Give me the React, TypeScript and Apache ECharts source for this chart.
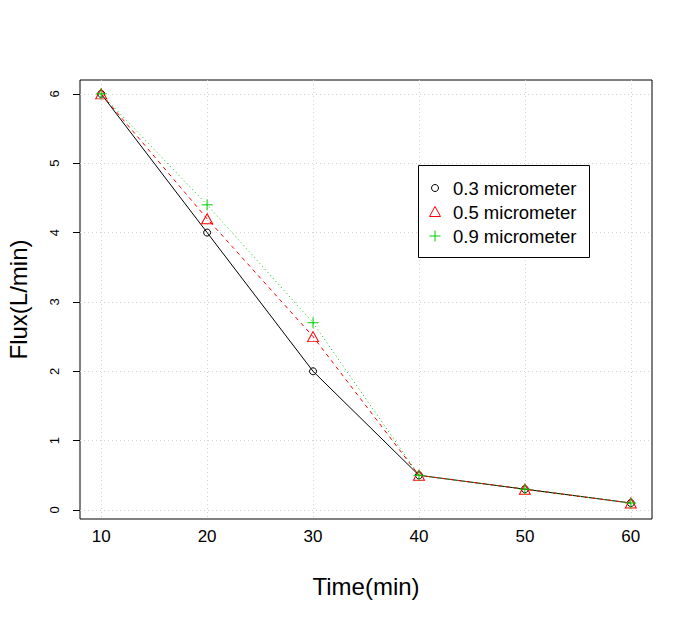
import React, { useEffect, useRef } from "react";
import * as echarts from "echarts";

const times = [10, 20, 30, 40, 50, 60];
const flux03 = [6, 4, 2, 0.5, 0.3, 0.1];
const flux05 = [6, 4.2, 2.5, 0.5, 0.3, 0.1];
const flux09 = [6, 4.4, 2.7, 0.5, 0.3, 0.1];
const xTicks = [10, 20, 30, 40, 50, 60];
const yTicks = [0, 1, 2, 3, 4, 5, 6];
const legendNames = ["0.3 micrometer", "0.5 micrometer", "0.9 micrometer"];

const FONT = "'Liberation Sans', Arial, sans-serif";
const RED = "#FF0000";
const GREEN = "#00CD00";

export default function App() {
  const ref = useRef<HTMLDivElement>(null);
  useEffect(() => {
    if (!ref.current) return;
    const chart = echarts.init(ref.current, null, { renderer: "svg" });
    const pair = (ys: number[]) => times.map((t, i) => [t, ys[i]]);
    const lx = 418, ly = 165;
    const rowY = [188, 212, 236];
    const symX = 435;
    chart.setOption({
      animation: false,
      backgroundColor: "#fff",
      grid: {
        left: 80, top: 80, width: 572, height: 439,
        outerBoundsMode: "none", containLabel: false,
        show: true, borderColor: "#000", borderWidth: 1, backgroundColor: "transparent",
      },
      xAxis: {
        type: "value", min: 8, max: 62,
        name: "Time(min)", nameLocation: "middle", nameGap: 55,
        nameTextStyle: { fontFamily: FONT, fontSize: 24, color: "#000" },
        axisLine: { show: false },
        axisTick: { show: false, customValues: xTicks },
        axisLabel: { customValues: xTicks, fontFamily: FONT, fontSize: 17, color: "#000", margin: 9 },
        splitLine: { show: true, lineStyle: { color: "#D3D3D3", type: [1, 3], width: 1 } },
      },
      yAxis: {
        type: "value", min: -0.13, max: 6.2,
        name: "Flux(L/min)", nameLocation: "middle", nameGap: 50, nameRotate: 90,
        nameTextStyle: { fontFamily: FONT, fontSize: 24, color: "#000" },
        axisLine: { show: false },
        axisTick: { show: true, length: 7, inside: false, customValues: yTicks, lineStyle: { color: "#000" } },
        axisLabel: { customValues: yTicks, rotate: 90, fontFamily: FONT, fontSize: 13, color: "#000", margin: 19 },
        splitLine: { show: true, lineStyle: { color: "#D3D3D3", type: [1, 3], width: 1 } },
      },
      series: [
        {
          name: legendNames[0], type: "line", data: pair(flux03),
          symbol: "circle", symbolSize: 7, showAllSymbol: true,
          lineStyle: { color: "#000", width: 1, type: "solid" },
          itemStyle: { color: "transparent", borderColor: "#000", borderWidth: 1 },
          z: 2,
        },
        {
          name: legendNames[1], type: "line", data: pair(flux05),
          symbol: "triangle", symbolSize: [11, 10], showAllSymbol: true,
          lineStyle: { color: RED, width: 1, type: [4, 4] },
          itemStyle: { color: "transparent", borderColor: RED, borderWidth: 1 },
          z: 3,
        },
        {
          name: legendNames[2], type: "line", data: pair(flux09),
          symbol: "path://M0,5L10,5M5,0L5,10", symbolSize: 11, showAllSymbol: true,
          lineStyle: { color: GREEN, width: 1, type: [1, 3] },
          itemStyle: { color: "transparent", borderColor: GREEN, borderWidth: 1 },
          z: 4,
        },
      ],
      graphic: [
        { type: "rect", z: 10, shape: { x: lx + 0.5, y: ly + 0.5, width: 171, height: 92 },
          style: { fill: "#fff", stroke: "#000", lineWidth: 1 } },
        { type: "circle", z: 11, shape: { cx: symX, cy: rowY[0], r: 3.5 },
          style: { fill: "none", stroke: "#000", lineWidth: 1 } },
        { type: "polygon", z: 11, shape: { points: [[symX, rowY[1] - 5.5], [symX - 5.5, rowY[1] + 4.5], [symX + 5.5, rowY[1] + 4.5]] },
          style: { fill: "none", stroke: RED, lineWidth: 1 } },
        { type: "line", z: 11, shape: { x1: symX - 5.5, y1: rowY[2], x2: symX + 5.5, y2: rowY[2] },
          style: { stroke: GREEN, lineWidth: 1 } },
        { type: "line", z: 11, shape: { x1: symX, y1: rowY[2] - 5.5, x2: symX, y2: rowY[2] + 5.5 },
          style: { stroke: GREEN, lineWidth: 1 } },
        ...legendNames.map((n, i) => ({
          type: "text", z: 11, x: 453, y: rowY[i],
          style: { text: n, fill: "#000", font: `18.5px ${FONT}`, verticalAlign: "middle", align: "left" },
        })),
      ],
    });
    return () => chart.dispose();
  }, []);
  return <div ref={ref} style={{ width: 693, height: 617, margin: -8 }} />;
}
